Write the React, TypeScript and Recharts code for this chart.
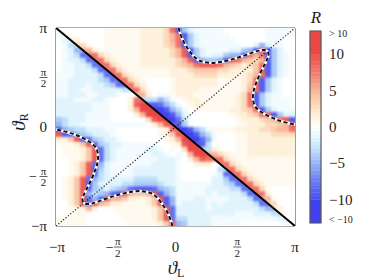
import React from "react";
import { ScatterChart, Scatter, XAxis, YAxis, ReferenceArea } from "recharts";

// R(θL, θR), 40 x 40 cells.
// rows run from θR = π (top) to θR = −π, columns from θL = −π to π
// '.' = 0, a..k and A..K = positive / negative levels (see levelValues), '/' = cell cut by the θR = −θL line
const fieldRows = [
  "/.......aaaaaabbbbchIDBAAAAA.......AAAAA",
  "A/a.....aaaaaabbbbcehIDBAAAAA......AAAAA",
  ".B/b....aaaaaabbbbcehIDBAAAAAA.....AAA..",
  ".AC/ca..aaaaaabbbbcdhIDBAAAAAAA..BEBAA..",
  ".ABE/ebaaaaaaabbbbbceiIDBAAAABBDEIhIDB..",
  ".ABCH/hcbaaaaabbbbbceiIDBABBDEEIhehIDBA.",
  ".ABBCH/hcbaaaabbbbbbceiIEDDEIihedceIDBA.",
  ".AABBCH/hcbaaabbbbbbcdehiiihedcbcdhIDBA.",
  ".AABBBCH/hcbaaaaaaabbbcddddccbbbbdiIDBA.",
  "AAABBBBCH/hcbaaaaaabbbbccccbbbbbcehIDBA.",
  "AABBBBBCDH/hcba....abbbbbbbaaaabchIDBA..",
  "AABBBABBCDH/hcb....abbbbbbbaaaabdiIDBA..",
  "AABBAABBBBBC/hca...abbbbaaaaaaabehIDBA..",
  "AABBBAABBBA../eb.AAabbbaaaaaaabchIDBAA..",
  "BBBAAABBA...bh/CCECA.abbaaaaaabchIDBAAA.",
  "BBBBBBAAA...bik/IHECA.abbaaaaabchIDBAAA.",
  "BBBBBBAAA...bekk/KIECA.aaaaaabbcdhIDBAAA",
  "BBBBBAAAA....bekk/KIEB.......abbcdhiIDBB",
  "DCBBBAAAA......cik/KHCA.......abbbcdehiI",
  "ECBBAAAAAAAAAAA.bei/IDA.......aabbbccdei",
  "IEDCCBBBAA.......abh/KIECAaaaabbbbccdeeh",
  "iIHEDCBBBA.......abdi/KIECA...aabbbbcccc",
  "bbdiIHDCBBA.......abek/KHEA...aabbbbbbbb",
  "aaabdiHDCBBAAAAAA..abik/IC....aabbbbbbbb",
  ".aaabdiHCBAAAAABBA.a.ckk/Cba..aabbbbbbbb",
  ".aaabdiHCBAAAAAABBA.A.ekk/ecbaaabbbbbbbb",
  "..aabdiHCBAAAAAAABBBA.beih/hcbaaaaaaaaaa",
  "..abdiHEBAAAAAAABBBBA..bbb./hcbaaaaaaaaa",
  "..abdiIDBAAAABBBBBBBA......C/hcbaaaaaaaa",
  "..abdiHCBAAAABBBBBBBA.....ABH/hcbaaaaaaa",
  ".abdiHECBBBBBCCCCBBBA.....BBDH/hcbaaaaaa",
  ".abdiIDBBBBCCDDDDCBBAAAAAABBCDH/hcbaaaaa",
  ".abdiHDCBCDEHIIIHEDCAAAAABBBBCCH/hca....",
  ".abdiECDEHIieddeiIECAAAAABABBBBCH/hb....",
  ".abdiHEHieedbbabdiIEAAABBAAAABBBCH/ea...",
  "..bdiHiedbbaaaabdiIEABBBBABABBBBBCH/c...",
  "..aabeb..aaaaaaabdiHBBBBBABBBBBBBBCE/b..",
  "..aaa.....aaaaaabdiHBBBBBBBBBBAAABBBC/a.",
  "aaaaa......aaaaabdiHCCBBBBAAAAAAAAAAAB/.",
  "aaaaa.......aaaaabdiEDBBBBAAAAA.......A/",
];
// R value of each letter level a..k (A..K are the same, negative)
const levelValues = [0.6, 1.5, 3, 4, 5, 6, 7, 8, 9, 10, 11];

// dashed R contours, (θL, θR) in units of π
const contourUpper = [
  [0.025, 1.0], [0.045, 0.92], [0.075, 0.84], [0.115, 0.77], [0.16, 0.7],
  [0.21, 0.66], [0.28, 0.645], [0.36, 0.65], [0.45, 0.675], [0.55, 0.71],
  [0.64, 0.75], [0.71, 0.78], [0.76, 0.78], [0.78, 0.75], [0.78, 0.71],
  [0.75, 0.64], [0.71, 0.55], [0.675, 0.45], [0.65, 0.36], [0.645, 0.28],
  [0.66, 0.21], [0.7, 0.16], [0.77, 0.115], [0.84, 0.075], [0.92, 0.045],
  [1.0, 0.025],
];
const contourLower = [
  [-0.025, -1.0], [-0.045, -0.92], [-0.075, -0.84], [-0.115, -0.77], [-0.16, -0.7],
  [-0.21, -0.66], [-0.28, -0.645], [-0.36, -0.65], [-0.45, -0.675], [-0.55, -0.71],
  [-0.64, -0.75], [-0.71, -0.78], [-0.76, -0.78], [-0.78, -0.75], [-0.78, -0.71],
  [-0.75, -0.64], [-0.71, -0.55], [-0.675, -0.45], [-0.65, -0.36], [-0.645, -0.28],
  [-0.66, -0.21], [-0.7, -0.16], [-0.77, -0.115], [-0.84, -0.075], [-0.92, -0.045],
  [-1.0, -0.025],
];
const antiDiagonal = [[-1, 1], [1, -1]];
const diagonal = [[-1, -1], [1, 1]];

const piTicks = [-1, -0.5, 0, 0.5, 1];
const cbarTicks = [-10, -5, 0, 5, 10];
const cbarLabelTicks = [-12.7, -10, -5, 0, 5, 10, 12.8];
const cbarEdges = [
  -13.2, -10, -9.5, -9, -8.5, -8, -7.5, -7, -6.5, -6, -5.5, -5, -4.5, -4, -3.5, -3,
  -2.5, -2, -1.5, -1, -0.5, 0, 0.5, 1, 1.5, 2, 2.5, 3, 3.5, 4, 4.5, 5, 5.5, 6, 6.5,
  7, 7.5, 8, 8.5, 9, 9.5, 10, 13.2,
];

const FONT = "'Liberation Serif', 'DejaVu Serif', serif";
const INK = "#1d1d1d";
const FRAME = "#5c5c5c";

const CHART_W = 366;
const CHART_H = 272;
const PLOT_LEFT = 48;
const PLOT_TOP = 20;
const PLOT_W = 239;
const PLOT_H = 198;
const N = 40;
const CELL_W = PLOT_W / N;
const CELL_H = PLOT_H / N;

// colour scale of the colour bar
const anchors: [number, number[]][] = [
  [-11, [64, 64, 240]],
  [-9, [84, 94, 240]],
  [-7, [112, 134, 242]],
  [-5, [152, 182, 245]],
  [-3, [192, 224, 249]],
  [-2, [214, 239, 252]],
  [-1, [235, 249, 254]],
  [0, [255, 255, 255]],
  [1, [255, 247, 230]],
  [2, [253, 235, 210]],
  [3, [251, 219, 188]],
  [5, [247, 182, 154]],
  [7, [243, 134, 116]],
  [9, [239, 94, 86]],
  [11, [236, 70, 70]],
];

const colorOf = (v: number) => {
  if (v <= anchors[0][0]) return `rgb(${anchors[0][1].join(",")})`;
  for (let k = 1; k < anchors.length; k++) {
    const [v1, c1] = anchors[k];
    if (v <= v1) {
      const [v0, c0] = anchors[k - 1];
      const t = (v - v0) / (v1 - v0);
      const c = c0.map((a, n) => Math.round(a + (c1[n] - a) * t));
      return `rgb(${c.join(",")})`;
    }
  }
  return `rgb(${anchors[anchors.length - 1][1].join(",")})`;
};

const levelOf = (ch: string) => {
  if (ch >= "a" && ch <= "k") return levelValues[ch.charCodeAt(0) - 97];
  if (ch >= "A" && ch <= "K") return -levelValues[ch.charCodeAt(0) - 65];
  return 0;
};

const heatCells = fieldRows.flatMap((row, j) =>
  row.split("").map((ch, i) => {
    const cell: any = {
      x: -1 + ((i + 0.5) * 2) / N,
      y: 1 - ((j + 0.5) * 2) / N,
      v: levelOf(ch),
      split: ch === "/",
    };
    if (ch === "/") {
      const above = i + 1 < N ? row[i + 1] : fieldRows[j - 1][i];
      const below = i > 0 ? row[i - 1] : fieldRows[j + 1][i];
      cell.above = levelOf(above);
      cell.below = levelOf(below);
    }
    return cell;
  })
);

const cbarBands = cbarEdges.slice(1).map((hi, k) => {
  const lo = cbarEdges[k];
  const mid = hi > 10 ? 11 : lo < -10 ? -11 : (lo + hi) / 2;
  return { lo, hi, color: colorOf(mid) };
});

const toPts = (arr: number[][]) => arr.map(([x, y]) => ({ x, y }));

const renderNone = () => <g />;

const renderCell = (p: any) => {
  const { cx, cy, payload } = p;
  if (cx == null || cy == null) return <g />;
  const x0 = cx - CELL_W / 2;
  const x1 = cx + CELL_W / 2;
  const y0 = cy - CELL_H / 2;
  const y1 = cy + CELL_H / 2;
  if (payload.split) {
    return (
      <g>
        <polygon points={`${x0},${y0} ${x1 + 0.5},${y0} ${x1 + 0.5},${y1 + 0.5}`} fill={colorOf(payload.above)} />
        <polygon points={`${x0 - 0.5},${y0 - 0.5} ${x0 - 0.5},${y1} ${x1},${y1}`} fill={colorOf(payload.below)} />
      </g>
    );
  }
  return <rect x={x0} y={y0} width={CELL_W + 0.5} height={CELL_H + 0.5} fill={colorOf(payload.v)} />;
};

const HalfPi = ({ cx, bar, neg, minusAt }: any) => (
  <g fill={INK} fontFamily={FONT}>
    {neg && (
      <text x={minusAt} y={bar + 4.5} textAnchor="middle" fontSize={14}>
        −
      </text>
    )}
    <text x={cx} y={bar - 2} textAnchor="middle" fontSize={11}>
      π
    </text>
    <line x1={cx - 4} x2={cx + 4} y1={bar} y2={bar} stroke={INK} strokeWidth={0.7} />
    <text x={cx} y={bar + 9.5} textAnchor="middle" fontSize={11}>
      2
    </text>
  </g>
);

const XTick = ({ x, y, payload }: any) => {
  const v = payload.value;
  if (v === 0.5 || v === -0.5)
    return <HalfPi cx={x + 2} bar={y + 21} neg={v < 0} minusAt={x - 6} />;
  const label = v === 0 ? "0" : v > 0 ? "π" : "−π";
  return (
    <text x={v < 0 ? x + 1 : x} y={y + 26} textAnchor="middle" fontSize={15} fill={INK} fontFamily={FONT}>
      {label}
    </text>
  );
};

const YTick = ({ x, y, payload }: any) => {
  const v = payload.value;
  if (v === 0.5 || v === -0.5)
    return <HalfPi cx={x - 12.5} bar={y} neg={v < 0} minusAt={x - 23} />;
  const label = v === 0 ? "0" : v > 0 ? "π" : "−π";
  return (
    <text x={x - 9} y={y + 5} textAnchor="end" fontSize={15} fill={INK} fontFamily={FONT}>
      {label}
    </text>
  );
};

const CbarTick = ({ x, y, payload }: any) => {
  const v = payload.value;
  if (v > 10.5)
    return (
      <text x={x + 8} y={y + 3.5} fontSize={10} fill={INK} fontFamily={FONT}>
        {"> 10"}
      </text>
    );
  if (v < -10.5)
    return (
      <text x={x + 8} y={y + 3.5} fontSize={10} fill={INK} fontFamily={FONT}>
        {"< −10"}
      </text>
    );
  return (
    <text x={x + 8} y={y + 5} fontSize={15} fill={INK} fontFamily={FONT}>
      {v < 0 ? `−${-v}` : `${v}`}
    </text>
  );
};

const axisProps = {
  type: "number" as const,
  dataKey: "x",
  domain: [-1, 1],
  ticks: piTicks,
  allowDataOverflow: true,
};

export default function App() {
  return (
    <div style={{ position: "relative", width: CHART_W, height: CHART_H }}>
      <svg width={0} height={0} style={{ position: "absolute" }}>
        <defs>
          <filter
            id="heatSmooth"
            filterUnits="userSpaceOnUse"
            x={PLOT_LEFT}
            y={PLOT_TOP}
            width={PLOT_W}
            height={PLOT_H}
            colorInterpolationFilters="sRGB"
          >
            <feGaussianBlur stdDeviation={1.3} />
            <feComponentTransfer>
              <feFuncA type="table" tableValues="1 1" />
            </feComponentTransfer>
          </filter>
        </defs>
      </svg>
      <style>{`.heat-field { filter: url(#heatSmooth); }`}</style>

      <div style={{ position: "absolute", left: 0, top: 0 }}>
        <ScatterChart
          width={CHART_W}
          height={CHART_H}
          margin={{ top: PLOT_TOP, right: CHART_W - PLOT_LEFT - PLOT_W, bottom: 0, left: 0 }}
        >
          <XAxis
            {...axisProps}
            height={CHART_H - PLOT_TOP - PLOT_H}
            tickSize={0}
            tickMargin={0}
            tickLine={false}
            interval={0}
            axisLine={{ stroke: FRAME, strokeWidth: 1.2 }}
            tick={(p: any) => <XTick {...p} />}
          />
          <XAxis
            {...axisProps}
            xAxisId="top"
            orientation="top"
            mirror
            tick={false}
            tickSize={4}
            tickLine={{ stroke: FRAME }}
            axisLine={{ stroke: FRAME, strokeWidth: 1.2 }}
          />
          <XAxis
            {...axisProps}
            xAxisId="bottomIn"
            orientation="bottom"
            mirror
            tick={false}
            tickSize={4}
            tickLine={{ stroke: FRAME }}
            axisLine={false}
          />
          <YAxis
            {...axisProps}
            dataKey="y"
            width={PLOT_LEFT}
            tickSize={0}
            tickMargin={0}
            tickLine={false}
            interval={0}
            axisLine={{ stroke: FRAME, strokeWidth: 1.2 }}
            tick={(p: any) => <YTick {...p} />}
          />
          <YAxis
            {...axisProps}
            dataKey="y"
            yAxisId="right"
            orientation="right"
            mirror
            tick={false}
            tickSize={4}
            tickLine={{ stroke: FRAME }}
            axisLine={{ stroke: FRAME, strokeWidth: 1.2 }}
          />
          <YAxis
            {...axisProps}
            dataKey="y"
            yAxisId="leftIn"
            orientation="left"
            mirror
            tick={false}
            tickSize={4}
            tickLine={{ stroke: FRAME }}
            axisLine={false}
          />

          <Scatter className="heat-field" data={heatCells} shape={renderCell} isAnimationActive={false} />

          <Scatter
            data={toPts(diagonal)}
            shape={renderNone}
            line={{ stroke: "#222", strokeWidth: 1.2, strokeDasharray: "1.2 1.9" }}
            isAnimationActive={false}
          />
          <Scatter
            data={toPts(antiDiagonal)}
            shape={renderNone}
            line={{ stroke: "#000", strokeWidth: 2 }}
            isAnimationActive={false}
          />
          {[contourUpper, contourLower].map((c, k) => (
            <Scatter
              key={`w${k}`}
              data={toPts(c)}
              shape={renderNone}
              line={{ stroke: "#fff", strokeWidth: 2.6 }}
              lineJointType="basis"
              isAnimationActive={false}
            />
          ))}
          {[contourUpper, contourLower].map((c, k) => (
            <Scatter
              key={`d${k}`}
              data={toPts(c)}
              shape={renderNone}
              line={{ stroke: "#111", strokeWidth: 2, strokeDasharray: "4 2.5" }}
              lineJointType="basis"
              isAnimationActive={false}
            />
          ))}
        </ScatterChart>
      </div>

      {/* colour bar */}
      <div style={{ position: "absolute", left: 300, top: 0 }}>
        <ScatterChart width={66} height={CHART_H} margin={{ top: 23, right: 0, bottom: 57, left: 2 }}>
          <XAxis type="number" dataKey="x" domain={[0, 1]} hide />
          <YAxis
            type="number"
            dataKey="y"
            domain={[-13.2, 13.2]}
            allowDataOverflow
            orientation="right"
            width={53}
            ticks={cbarLabelTicks}
            interval={0}
            tickSize={0}
            tickMargin={0}
            tickLine={false}
            axisLine={false}
            tick={(p: any) => <CbarTick {...p} />}
          />
          {cbarBands.map((b, k) => (
            <ReferenceArea
              key={k}
              x1={0}
              x2={1}
              y1={b.lo}
              y2={b.hi}
              fill={b.color}
              fillOpacity={1}
              stroke={b.color}
              strokeWidth={0.4}
            />
          ))}
          <ReferenceArea x1={0} x2={1} y1={-13.2} y2={13.2} fill="none" stroke={FRAME} strokeWidth={1.2} />
          <YAxis
            yAxisId="in"
            type="number"
            dataKey="y"
            domain={[-13.2, 13.2]}
            allowDataOverflow
            orientation="right"
            mirror
            ticks={cbarTicks}
            tick={false}
            tickSize={3}
            tickLine={{ stroke: "#333" }}
            axisLine={false}
          />
          <Scatter data={[{ x: 0.5, y: 0 }]} shape={renderNone} isAnimationActive={false} />
        </ScatterChart>
      </div>

      <svg
        width={CHART_W}
        height={CHART_H}
        style={{ position: "absolute", left: 0, top: 0, pointerEvents: "none" }}
        fontFamily={FONT}
        fill={INK}
      >
        <text x={168} y={266} textAnchor="middle" fontSize={19} fontStyle="italic">
          ϑ
          <tspan fontSize={12} fontStyle="normal" dy={3}>
            L
          </tspan>
        </text>
        <text transform="rotate(-90)" x={-114} y={17} textAnchor="middle" fontSize={19} fontStyle="italic">
          ϑ
          <tspan fontSize={12} fontStyle="normal" dy={3}>
            R
          </tspan>
        </text>
        <text x={308} y={15} textAnchor="middle" fontSize={17} fontStyle="italic">
          R
        </text>
      </svg>
    </div>
  );
}
